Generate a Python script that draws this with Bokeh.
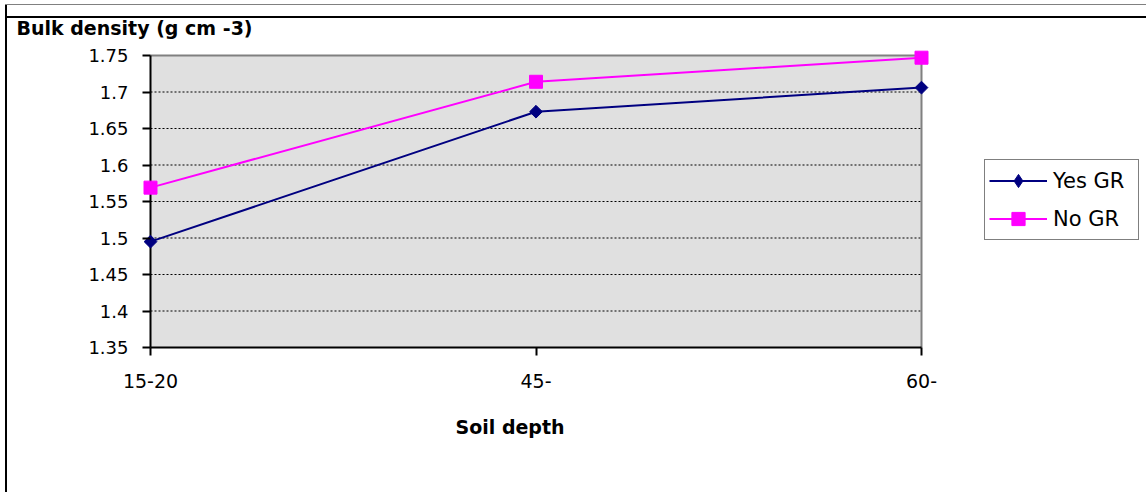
import numpy as np
from bokeh.plotting import figure
from bokeh.models import FixedTicker, Legend, LegendItem, Title
from bokeh.embed import file_html
from bokeh.resources import INLINE

depths = ["15-20", "45-", "60-"]
yes_gr = [1.495, 1.673, 1.706]
no_gr = [1.569, 1.714, 1.747]
y_ticks = [1.35, 1.4, 1.45, 1.5, 1.55, 1.6, 1.65, 1.7, 1.75]
y_tick_labels = ["1.35", "1.4", "1.45", "1.5", "1.55", "1.6", "1.65", "1.7", "1.75"]

x = list(range(len(depths)))
W, H = 1146, 492
FONT = "DejaVu Sans"

# plot area (pixels): 150..921 x 55..347 ; the frame is larger so that edge markers
# and the legend are not clipped
PA_L, PA_R, PA_T, PA_B = 150, 921, 55, 347
PAD = 8
FR_L, FR_R, FR_T, FR_B = PA_L - PAD, W, PA_T - PAD, PA_B + PAD
x0, x1 = x[0], x[-1]
y0, y1 = y_ticks[0], y_ticks[-1]
xs = (x1 - x0) / (PA_R - PA_L)
ys = (y1 - y0) / (PA_B - PA_T)

p = figure(width=W, height=H, output_backend="svg", toolbar_location=None,
           x_range=(x0 - (PA_L - FR_L) * xs, x1 + (FR_R - PA_R) * xs),
           y_range=(y0 - (FR_B - PA_B) * ys, y1 + (PA_T - FR_T) * ys),
           min_border_left=FR_L, min_border_right=W - FR_R,
           min_border_top=FR_T, min_border_bottom=H - FR_B)
p.background_fill_color = None
p.border_fill_color = None
p.outline_line_color = None
p.grid.grid_line_color = None
p.styles = {
    "background": "linear-gradient(#808080,#808080) 5px 4px / 100% 1px no-repeat, "
                  "linear-gradient(#000,#000) 6px 16px / 100% 2px no-repeat, "
                  "linear-gradient(#000,#000) 5px 4px / 2px 100% no-repeat, white"
}

# plot-area background, gridlines, outline, axis lines
p.quad(left=[x0], right=[x1], bottom=[y0], top=[y1], fill_color="#E0E0E0", line_color=None)
gy = y_ticks[1:-1]
p.segment(x0=[x0] * len(gy), x1=[x1] * len(gy), y0=gy, y1=gy,
          line_color="black", line_dash="2 2", line_width=1)
p.segment(x0=[x0, x1], x1=[x1, x1], y0=[y1, y0], y1=[y1, y1], line_color="#808080", line_width=2)
p.segment(x0=[x0, x0], x1=[x1, x0], y0=[y0, y0], y1=[y0, y1], line_color="black", line_width=2)

p.yaxis.ticker = FixedTicker(ticks=y_ticks)
p.yaxis.major_label_overrides = {t: l for t, l in zip(y_ticks, y_tick_labels)}
p.xaxis.ticker = FixedTicker(ticks=x)
p.xaxis.major_label_overrides = {i: d for i, d in zip(x, depths)}

for ax in (p.xaxis[0], p.yaxis[0]):
    ax.axis_line_color = None
    ax.major_tick_line_color = "black"
    ax.major_tick_line_width = 2
    ax.major_tick_in = PAD
    ax.major_tick_out = 0
    ax.minor_tick_line_color = None
    ax.major_label_text_font = FONT
    ax.major_label_text_color = "black"
p.yaxis.major_label_standoff = 14
p.yaxis.major_label_text_font_size = "18px"
p.xaxis.major_label_standoff = 18
p.xaxis.major_label_text_font_size = "19px"

r1l = p.line(x, yes_gr, line_color="#000080", line_width=2)
# diamond used by the legend (the legend does not rotate markers); hidden under the rotated squares
r1k = p.scatter(x, yes_gr, marker="diamond", size=5,
                fill_color="#000080", line_color="#000080")
r1m = p.scatter(x, yes_gr, marker="square", angle=np.pi / 4, size=9,
                fill_color="#000080", line_color="#000080")
r2l = p.line(x, no_gr, line_color="#FF00FF", line_width=2)
r2m = p.scatter(x, no_gr, marker="square", size=13,
                fill_color="#FF00FF", line_color="#FF00FF")

LG_L, LG_B = 984, 240
legend = Legend(items=[LegendItem(label="Yes GR", renderers=[r1l, r1k]),
                       LegendItem(label="No GR", renderers=[r2l, r2m])],
                location=(LG_L - FR_L, FR_B - LG_B), orientation="vertical")
legend.border_line_color = "black"
legend.border_line_width = 1
legend.background_fill_color = "white"
legend.background_fill_alpha = 1
legend.label_text_font = FONT
legend.label_text_font_size = "21px"
legend.label_text_color = "black"
legend.glyph_width = 58
legend.glyph_height = 33
legend.label_height = 33
legend.label_width = 81
legend.label_standoff = 6
legend.spacing = 5
legend.padding = 4
legend.margin = 0
p.add_layout(legend)

p.title.text = "Bulk density (g cm -3)"
p.title.align = "left"
p.title.offset = 16 - FR_L
p.title.text_font = FONT
p.title.text_font_size = "19px"
p.title.text_font_style = "bold"
p.title.text_color = "black"
p.title.standoff = 17

xlabel = Title(text="Soil depth", align="left", offset=455 - FR_L, text_font=FONT,
               text_font_size="19px", text_font_style="bold", text_color="black",
               standoff=47)
p.add_layout(xlabel, "below")

open("out.html", "w").write(file_html(p, INLINE))
